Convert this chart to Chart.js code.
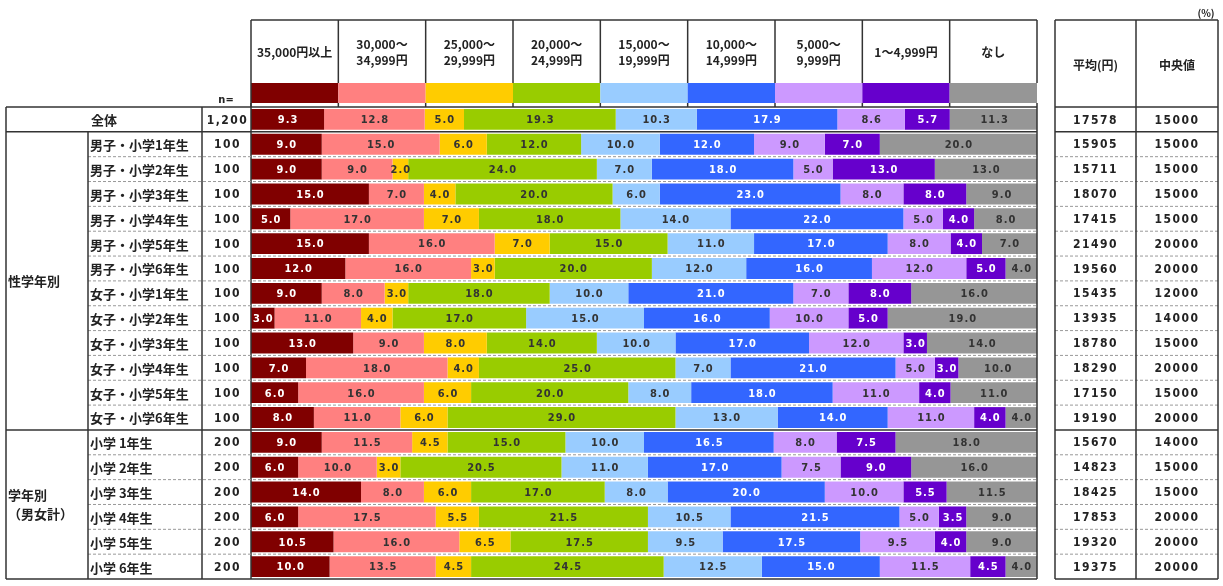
<!DOCTYPE html>
<html>
<head>
<meta charset="utf-8">
<script src="https://cdn.jsdelivr.net/npm/chart.js@4"></script>
<style>
  html, body { margin: 0; padding: 0; background: #fff; }
  #wrap { width: 1223px; height: 586px; position: relative; }
</style>
</head>
<body>
<div id="wrap"><canvas id="myChart"></canvas></div>
<script>
// rows
const categories = [
  '全体',
  '男子・小学1年生', '男子・小学2年生', '男子・小学3年生', '男子・小学4年生', '男子・小学5年生', '男子・小学6年生',
  '女子・小学1年生', '女子・小学2年生', '女子・小学3年生', '女子・小学4年生', '女子・小学5年生', '女子・小学6年生',
  '小学 1年生', '小学 2年生', '小学 3年生', '小学 4年生', '小学 5年生', '小学 6年生'
];
const nValues = ['1,200', '100', '100', '100', '100', '100', '100', '100', '100', '100', '100', '100', '100',
  '200', '200', '200', '200', '200', '200'];
const avgValues = [17578, 15905, 15711, 18070, 17415, 21490, 19560, 15435, 13935, 18780, 18290, 17150, 19190,
  15670, 14823, 18425, 17853, 19320, 19375];
const medianValues = [15000, 15000, 15000, 15000, 15000, 20000, 20000, 12000, 14000, 15000, 20000, 15000, 20000,
  14000, 15000, 15000, 20000, 20000, 20000];

// series (%)
const over35000 = [9.3, 9.0, 9.0, 15.0, 5.0, 15.0, 12.0, 9.0, 3.0, 13.0, 7.0, 6.0, 8.0, 9.0, 6.0, 14.0, 6.0, 10.5, 10.0];
const from30000 = [12.8, 15.0, 9.0, 7.0, 17.0, 16.0, 16.0, 8.0, 11.0, 9.0, 18.0, 16.0, 11.0, 11.5, 10.0, 8.0, 17.5, 16.0, 13.5];
const from25000 = [5.0, 6.0, 2.0, 4.0, 7.0, 7.0, 3.0, 3.0, 4.0, 8.0, 4.0, 6.0, 6.0, 4.5, 3.0, 6.0, 5.5, 6.5, 4.5];
const from20000 = [19.3, 12.0, 24.0, 20.0, 18.0, 15.0, 20.0, 18.0, 17.0, 14.0, 25.0, 20.0, 29.0, 15.0, 20.5, 17.0, 21.5, 17.5, 24.5];
const from15000 = [10.3, 10.0, 7.0, 6.0, 14.0, 11.0, 12.0, 10.0, 15.0, 10.0, 7.0, 8.0, 13.0, 10.0, 11.0, 8.0, 10.5, 9.5, 12.5];
const from10000 = [17.9, 12.0, 18.0, 23.0, 22.0, 17.0, 16.0, 21.0, 16.0, 17.0, 21.0, 18.0, 14.0, 16.5, 17.0, 20.0, 21.5, 17.5, 15.0];
const from5000 = [8.6, 9.0, 5.0, 8.0, 5.0, 8.0, 12.0, 7.0, 10.0, 12.0, 5.0, 11.0, 11.0, 8.0, 7.5, 10.0, 5.0, 9.5, 11.5];
const from1 = [5.7, 7.0, 13.0, 8.0, 4.0, 4.0, 5.0, 8.0, 5.0, 3.0, 3.0, 4.0, 4.0, 7.5, 9.0, 5.5, 3.5, 4.0, 4.5];
const noneValues = [11.3, 20.0, 13.0, 9.0, 8.0, 7.0, 4.0, 16.0, 19.0, 14.0, 10.0, 11.0, 4.0, 18.0, 16.0, 11.5, 9.0, 9.0, 4.0];

const seriesLabels = [
  ['35,000円以上'], ['30,000～', '34,999円'], ['25,000～', '29,999円'], ['20,000～', '24,999円'],
  ['15,000～', '19,999円'], ['10,000～', '14,999円'], ['5,000～', '9,999円'], ['1～4,999円'], ['なし']
];
const seriesValues = [over35000, from30000, from25000, from20000, from15000, from10000, from5000, from1, noneValues];
const colors = ['#800000', '#FF8080', '#FFCC00', '#99CC00', '#99CCFF', '#3366FF', '#CC99FF', '#6600CC', '#969696'];
const whiteText = [true, false, false, false, false, true, false, true, false];

const groups = [
  { lines: ['性学年別'], from: 1, to: 12 },
  { lines: ['学年別', '（男女計）'], from: 13, to: 18 }
];

const JP = '"Noto Sans CJK JP", "Noto Sans", sans-serif';
const NUM = '"DejaVu Sans Condensed", "DejaVu Sans", sans-serif';

const tablePlugin = {
  id: 'table',
  afterDraw(chart) {
    const ctx = chart.ctx;
    const a = chart.chartArea;
    const ys = chart.scales.y;
    const band = (a.bottom - a.top) / categories.length;
    const rowY = i => a.top + i * band;
    const colW = (a.right - a.left) / seriesLabels.length;
    const headTop = 20, swTop = 83, swBot = 103;
    const L0 = 6, L1 = 88, L2 = 202;
    const R0 = 1055, R1 = 1136, R2 = 1218;

    ctx.save();

    // bar value labels
    ctx.textAlign = 'center';
    ctx.textBaseline = 'middle';
    ctx.font = 'bold 11px ' + NUM;
    ctx.letterSpacing = '1px';
    seriesValues.forEach((vals, d) => {
      const meta = chart.getDatasetMeta(d);
      meta.data.forEach((bar, i) => {
        const cx = (bar.x + bar.base) / 2;
        ctx.fillStyle = whiteText[d] ? '#fff' : '#333';
        ctx.fillText(vals[i].toFixed(1), cx + 0.5, bar.y + 1);
      });
    });
    ctx.letterSpacing = '0px';

    // legend header: swatches and labels
    ctx.strokeStyle = '#333';
    ctx.lineWidth = 1.5;
    seriesLabels.forEach((lines, d) => {
      const x0 = a.left + d * colW;
      ctx.fillStyle = colors[d];
      ctx.fillRect(x0, swTop, colW, swBot - swTop);
      ctx.fillStyle = '#222';
      ctx.font = 'bold 12px ' + JP;
      const cy = 52;
      lines.forEach((t, k) => {
        ctx.fillText(t, x0 + colW / 2, cy + (k - (lines.length - 1) / 2) * 16);
      });
    });

    const line = (x1, y1, x2, y2) => {
      ctx.beginPath(); ctx.moveTo(x1, y1); ctx.lineTo(x2, y2); ctx.stroke();
    };
    // header borders
    line(a.left, headTop, a.right, headTop);
    for (let d = 0; d <= seriesLabels.length; d++) {
      const x = a.left + d * colW;
      line(x, headTop, x, swTop);
      line(x, swBot, x, a.top);
    }
    line(a.left, swTop, a.left, a.bottom);
    line(a.right, a.top, a.right, a.bottom);

    // right table header
    line(R0, headTop, R2, headTop);
    ctx.fillStyle = '#222';
    ctx.font = 'bold 12px ' + JP;
    ctx.fillText('平均(円)', (R0 + R1) / 2, 65);
    ctx.fillText('中央値', (R1 + R2) / 2, 65);
    ctx.font = 'bold 10px ' + JP;
    ctx.fillText('(%)', 1206, 13);
    ctx.font = 'bold 11px ' + NUM;
    ctx.fillText('n=', 226, 100);

    // horizontal row lines
    for (let k = 0; k <= categories.length; k++) {
      const y = rowY(k);
      const solid = (k === 0 || k === 1 || k === 13 || k === categories.length);
      if (solid) {
        ctx.setLineDash([]);
        ctx.strokeStyle = '#333';
        ctx.lineWidth = 1.5;
        line(L0, y, a.right, y);
      } else {
        ctx.setLineDash([3, 2]);
        ctx.strokeStyle = '#999';
        ctx.lineWidth = 1;
        line(L1, y, a.right, y);
      }
      line(R0, y, R2, y);
    }
    ctx.setLineDash([]);
    ctx.strokeStyle = '#333';
    ctx.lineWidth = 1.5;
    // vertical lines left table
    line(L0, rowY(0), L0, a.bottom);
    line(L1, rowY(1), L1, a.bottom);
    line(L2, rowY(0), L2, a.bottom);
    // right table verticals
    line(R0, headTop, R0, a.bottom);
    line(R1, headTop, R1, a.bottom);
    line(R2, headTop, R2, a.bottom);

    // row texts
    ctx.fillStyle = '#222';
    categories.forEach((c, i) => {
      const cy = ys.getPixelForValue(i) + 1;
      ctx.font = 'bold 13px ' + JP;
      if (i === 0) {
        ctx.textAlign = 'center';
        ctx.fillText(c, (L0 + L2) / 2, cy);
      } else {
        ctx.textAlign = 'left';
        ctx.fillText(c, L1 + 2, cy);
      }
      ctx.textAlign = 'center';
      ctx.font = 'bold 12px ' + NUM;
      ctx.letterSpacing = '1.5px';
      ctx.fillText(nValues[i], (L2 + a.left) / 2 + 1, cy);
      ctx.fillText(String(avgValues[i]), (R0 + R1) / 2, cy);
      ctx.fillText(String(medianValues[i]), (R1 + R2) / 2, cy);
      ctx.letterSpacing = '0px';
    });

    // group labels
    ctx.textAlign = 'left';
    ctx.font = 'bold 13px ' + JP;
    groups.forEach(g => {
      const mid = (rowY(g.from) + rowY(g.to + 1)) / 2;
      g.lines.forEach((t, k) => {
        ctx.fillText(t, 8, mid + (k - (g.lines.length - 1) / 2) * 19);
      });
    });

    ctx.restore();
  }
};

const data = {
  labels: categories,
  datasets: seriesValues.map((vals, d) => ({
    label: seriesLabels[d].join(''),
    data: vals,
    backgroundColor: colors[d],
    borderWidth: 0,
    barPercentage: 0.84,
    categoryPercentage: 1.0
  }))
};

const config = {
  type: 'bar',
  data: data,
  options: {
    indexAxis: 'y',
    responsive: true,
    maintainAspectRatio: false,
    animation: false,
    layout: { padding: { left: 251, right: 186, top: 107, bottom: 7 } },
    plugins: {
      legend: { display: false },
      tooltip: { enabled: false }
    },
    scales: {
      x: { stacked: true, min: 0, max: 100, display: false },
      y: { stacked: true, display: false }
    }
  },
  plugins: [tablePlugin]
};

new Chart(document.getElementById('myChart'), config);
</script>
</body>
</html>
